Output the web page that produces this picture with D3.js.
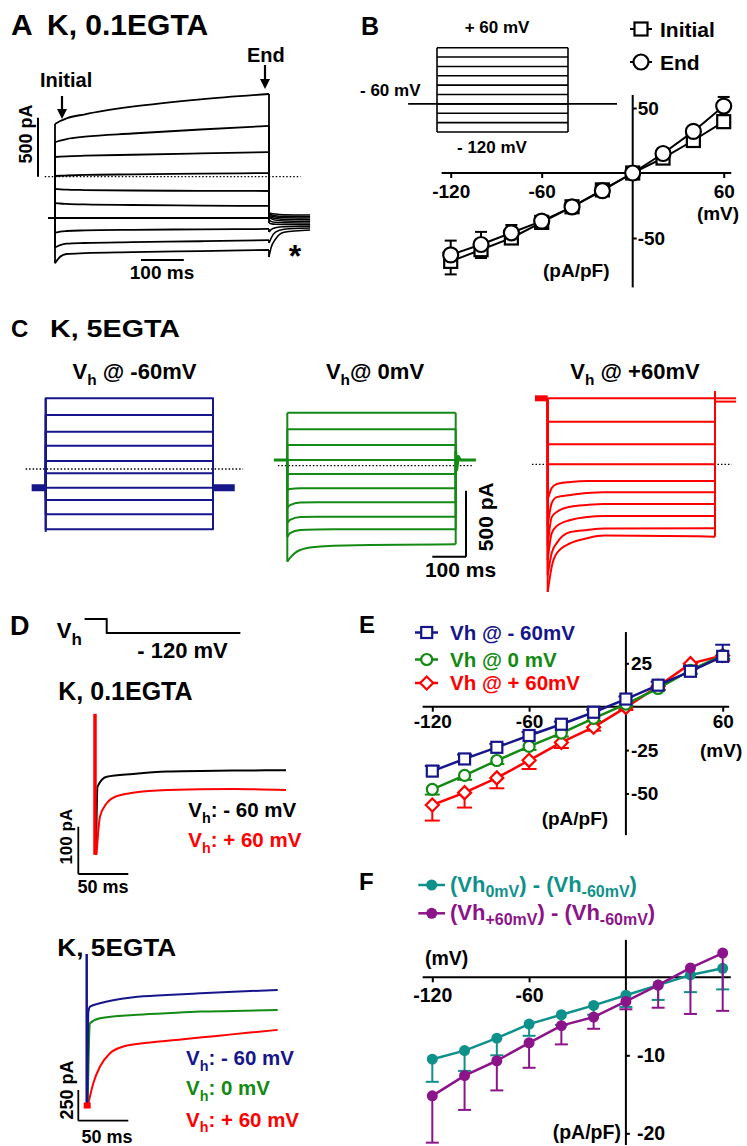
<!DOCTYPE html>
<html>
<head>
<meta charset="utf-8">
<script src="https://cdn.jsdelivr.net/npm/d3@7"></script>
<style>
  body { margin: 0; background: #fff; }
  svg text { font-family: "Liberation Sans", Arial, Helvetica, sans-serif; font-weight: bold; }
</style>
</head>
<body>
<svg id="fig" width="747" height="1146"></svg>
<script>
// ---- A: K, 0.1EGTA step traces (pA vs ms), steps +60 .. -120 mV from -60 mV ----
const aSteps = [60, 40, 20, 0, -20, -40, -60, -80, -100, -120];
const aHold = -350;
const aPreStart = -16;
const aTime = [0, 12, 27, 70, 180, 340, 500];
const aCurrent = [
  [447, 472, 495, 529, 593, 656, 701],
  [292, 305, 319, 339, 366, 400, 430],
  [167, 170, 173, 178, 186, 198, 209],
  [6, 8, 10, 15, 20, 26, 31],
  [-104, -107, -110, -113, -117, -120, -121],
  [-223, -227, -230, -235, -240, -245, -248],
  [-350, -350, -350, -350, -350, -350, -350],
  [-475, -465, -460, -455, -450, -446, -443],
  [-600, -580, -568, -562, -555, -547, -537],
  [-734, -678, -655, -648, -640, -630, -621]
];
const aTailTime = [500, 505, 515, 535, 596];
const aTail = [
  [-308, -312, -317, -322, -325],
  [-316, -322, -330, -336, -339],
  [-325, -333, -342, -348, -350],
  [-333, -343, -355, -362, -364],
  [-342, -355, -368, -375, -378],
  [-367, -378, -387, -390, -392],
  [-392, -398, -403, -405, -407],
  [-469, -448, -432, -424, -420],
  [-562, -520, -470, -445, -435],
  [-681, -600, -530, -470, -452]
];

// ---- B: I-V (pA/pF vs mV) ----
const ivVolt = [-120, -100, -80, -60, -40, -20, 0, 20, 40, 60];
const bInitial = [-68, -59, -50, -38, -26, -13, 0, 11.5, 25, 39.5];
const bInitialErr = [10, 6.4, 4, 3, 2, 1.5, 1, 2, 3, 4];
const bEnd = [-63, -55, -46, -37, -26, -13.6, 0, 15, 32, 51.5];
const bEndErr = [11, 9.7, 6, 4, 2, 1.5, 1, 2, 3, 7];
const bProtoSteps = [60, 40, 20, 0, -20, -40, -60, -80, -100, -120];
const bProtoHold = -60;

// ---- C: K, 5EGTA traces at three holding potentials ----
const cBlueHold = -142;
const cBlue = [536, 409, 283, 177, 61, -33, -142, -235, -343, -457];
const cGreenHold = 43;
const cGreenTime = [0, 8, 38, 89, 138, 500];
const cGreen = [
  [401, 401, 401, 401, 401, 401],
  [276, 276, 276, 276, 276, 276],
  [157, 157, 157, 157, 157, 157],
  [43, 43, 43, 43, 43, 43],
  [-70, -63, -63, -63, -63, -63],
  [-184, -176, -171, -171, -171, -171],
  [-320, -298, -279, -277, -277, -277],
  [-434, -411, -389, -386, -386, -386],
  [-540, -510, -487, -483, -482, -482],
  [-727, -699, -639, -614, -606, -595]
];
const cRedHold = 500;
const cRedTime = [0, 12, 27, 68, 118, 168, 500];
const cRed = [
  [500, 500, 500, 500, 500, 500, 500],
  [323, 323, 323, 323, 323, 323, 323],
  [151, 151, 151, 151, 151, 151, 151],
  [0, 0, 0, 0, 0, 0, 0],
  [-270, -180, -149, -134, -126, -126, -126],
  [-462, -295, -249, -233, -218, -212, -212],
  [-613, -400, -361, -321, -308, -301, -301],
  [-726, -521, -468, -422, -399, -392, -392],
  [-839, -672, -597, -513, -498, -487, -485],
  [-967, -775, -674, -598, -560, -540, -548]
];

// ---- D: tail currents at -120 mV ----
const dTopSpike = [13, -285];
const dTopBlackT = [1, 2.5, 11.7, 38, 72, 138, 191];
const dTopBlack = [-285, -141, -120, -114, -109, -107, -106];
const dTopRedT = [1.5, 5, 11.7, 21.7, 38, 72, 138, 191];
const dTopRed = [-285, -204, -176, -161, -154, -148, -146, -148];
const dBotSpike = [49, -1193];
const dBotBlueT = [0.6, 1.5, 3.3, 13.3, 46.6, 80, 113.3, 146.6, 191];
const dBotBlue = [-1193, -433, -380, -352, -303, -285, -271, -258, -244];
const dBotGreenT = [1, 3.3, 13.3, 46.6, 80, 113.3, 146.6, 191];
const dBotGreen = [-1150, -515, -474, -447, -433, -420, -415, -407];
const dBotRedT = [1, 6.6, 13.3, 23.3, 36.6, 63.3, 96.6, 130, 163.3, 191];
const dBotRed = [-1193, -1003, -867, -759, -705, -672, -645, -618, -591, -569];

// ---- E: I-V at three holding potentials ----
const eNeg60 = [-37.1, -30.1, -23.4, -16.6, -10.1, -3.2, 4.4, 12.4, 20.4, 29.0];
const eNeg60Err = [3, 2.5, 2, 2, 1.5, 1.5, 1.5, 2, 3, 6.7];
const eZero = [-47.6, -39.6, -31, -22.9, -15.2, -6.7, 1.5, 10.5, 21, 29.5];
const eZeroErr = [3, 2.5, 2, 2, 2, 1.5, 1, 1, 2, 2];
const ePos60 = [-56.6, -49.5, -41, -30.9, -20.6, -11.8, -0.4, 11.8, 24.8, 29.5];
const ePos60Err = [9, 8.6, 6, 5, 3.2, 2, 1.5, 2, 3, 3];

// ---- F: difference currents ----
const fZero = [-10.5, -9.4, -7.8, -6.0, -4.8, -3.6, -2.3, -1.0, 0.3, 1.15];
const fZeroErr = [2.9, 2.6, 2.2, 1.5, 1.3, 1.2, 1.5, 1.9, 2.2, 2.7];
const fPos = [-15.2, -12.6, -10.7, -8.4, -6.2, -5.1, -3.1, -1.0, 1.2, 3.1];
const fPosErr = [6.0, 4.4, 3.8, 3.2, 2.4, 1.5, 1.0, 2.9, 5.9, 7.4];

const svg = d3.select('#fig');
const NAVY = '#16168a', GREEN = '#138a13', RED = '#ff0000', TEAL = '#0f918b', PURPLE = '#8c148a';

function label(x, y, s, size, o = {}) {
  const t = svg.append('text')
    .attr('x', x).attr('y', y)
    .attr('font-size', size)
    .attr('fill', o.fill || '#000')
    .attr('text-anchor', o.anchor || 'start')
    .text(s);
  if (o.len) t.attr('textLength', o.len).attr('lengthAdjust', 'spacingAndGlyphs');
  if (o.rotate) t.attr('transform', `rotate(${o.rotate},${x},${y})`);
  return t;
}

// text with subscripts: parts = [[string, isSub], ...]
function rich(x, y, parts, size, o = {}) {
  const t = svg.append('text')
    .attr('x', x).attr('y', y)
    .attr('font-size', size)
    .attr('fill', o.fill || '#000')
    .attr('text-anchor', o.anchor || 'start');
  const sub = o.sub || size * 0.7, shift = o.shift || size * 0.28;
  let down = false;
  parts.forEach(([s, isSub]) => {
    const ts = t.append('tspan').text(s);
    if (isSub) {
      ts.attr('font-size', sub);
      if (!down) { ts.attr('dy', shift); down = true; }
    } else if (down) {
      ts.attr('dy', -shift); down = false;
    }
  });
  return t;
}

function trace(pts, x, y, color, w, curve) {
  svg.append('path')
    .attr('d', d3.line().x(d => x(d[0])).y(d => y(d[1])).curve(curve || d3.curveLinear)(pts))
    .attr('fill', 'none')
    .attr('stroke', color)
    .attr('stroke-width', w)
    .attr('stroke-linejoin', 'round');
}

function seg(x1, y1, x2, y2, w, color, dash) {
  const l = svg.append('line')
    .attr('x1', x1).attr('y1', y1).attr('x2', x2).attr('y2', y2)
    .attr('stroke', color || '#000').attr('stroke-width', w);
  if (dash) l.attr('stroke-dasharray', dash);
  return l;
}

function arrowDown(x, y1, y2) {
  seg(x, y1, x, y2 - 8, 2.2);
  svg.append('path')
    .attr('d', `M${x - 5},${y2 - 10}L${x + 5},${y2 - 10}L${x},${y2}Z`)
    .attr('fill', '#000');
}

function marker(type, cx, cy, color, s) {
  if (type === 'square') {
    svg.append('rect').attr('x', cx - s / 2).attr('y', cy - s / 2).attr('width', s).attr('height', s)
      .attr('fill', '#fff').attr('stroke', color).attr('stroke-width', 2.2);
  } else if (type === 'circle') {
    svg.append('circle').attr('cx', cx).attr('cy', cy).attr('r', s / 2)
      .attr('fill', '#fff').attr('stroke', color).attr('stroke-width', 2.2);
  } else if (type === 'diamond') {
    svg.append('path')
      .attr('d', `M${cx},${cy - s / 2}L${cx + s / 2},${cy}L${cx},${cy + s / 2}L${cx - s / 2},${cy}Z`)
      .attr('fill', '#fff').attr('stroke', color).attr('stroke-width', 2.2);
  } else {
    svg.append('circle').attr('cx', cx).attr('cy', cy).attr('r', s / 2).attr('fill', color);
  }
}

function series(x, y, vals, errs, dir, color, type, size, lw, cap) {
  vals.forEach((v, i) => {
    const px = x(ivVolt[i]), e = y(v + dir * errs[i]);
    seg(px, y(v), px, e, 2, color);
    seg(px - cap / 2, e, px + cap / 2, e, 2, color);
  });
  trace(vals.map((v, i) => [ivVolt[i], v]), x, y, color, lw);
  vals.forEach((v, i) => marker(type, x(ivVolt[i]), y(v), color, size));
}

function ivAxes(x, y, o) {
  seg(x(o.xExt[0]), y(0), x(o.xExt[1]), y(0), 2);
  seg(x(0), y(o.yExt[0]), x(0), y(o.yExt[1]), 2);
  const ax = svg.append('g').attr('transform', `translate(0,${y(0)})`)
    .call(d3.axisBottom(x).tickValues(o.xTicks).tickSize(5).tickPadding(o.xPad)
      .tickSizeOuter(0).tickFormat(d => String(d)));
  const ay = svg.append('g').attr('transform', `translate(${x(0)},0)`)
    .call(d3.axisRight(y).tickValues(o.yTicks).tickSize(o.yTick).tickPadding(o.yPad)
      .tickSizeOuter(0).tickFormat(d => String(d)));
  [ax, ay].forEach(g => {
    g.select('.domain').remove();
    g.selectAll('.tick line').attr('stroke', '#000').attr('stroke-width', 2);
    g.selectAll('text').attr('font-size', o.fs).attr('fill', '#000');
  });
}

// ================= Panel A =================
label(11, 35, 'A', 30);
label(47, 35, 'K, 0.1EGTA', 30);
const xA = d3.scaleLinear([0, 500], [55, 269]);
const yA = d3.scaleLinear([0, 500], [176.7, 117.7]);
seg(xA(-24), yA(0), xA(574), yA(0), 1.3, '#000', '1.5,2');
aCurrent.forEach((vals, i) => {
  trace([[aPreStart, aHold], [0, aHold], [0, vals[0]]], xA, yA, '#000', 1.8);
  trace(aTime.map((t, j) => [t, vals[j]]), xA, yA, '#000', 1.8, d3.curveMonotoneX);
  trace([[500, vals[vals.length - 1]], [500, aTail[i][0]]], xA, yA, '#000', 1.8);
  trace(aTailTime.map((t, j) => [t, aTail[i][j]]), xA, yA, '#000', 1.5, d3.curveMonotoneX);
});
seg(38, yA(500), 38, yA(0), 2);
label(32, 134, '500 pA', 18, { anchor: 'middle', rotate: -90 });
seg(141, 260, 141 + xA(100) - xA(0), 260, 2);
label(162, 279, '100 ms', 19, { anchor: 'middle' });
label(40, 87, 'Initial', 20);
arrowDown(62, 96, 119);
label(247, 62, 'End', 20);
arrowDown(265, 65, 89);
label(295, 267, '*', 32, { anchor: 'middle' });

// ================= Panel B =================
label(361, 35, 'B', 25);
const pt = d3.scaleLinear([0, 500], [437, 568]);
const pv = d3.scaleLinear([-120, 60], [132, 47.7]);
bProtoSteps.forEach(v => seg(pt(0), pv(v), pt(500), pv(v), 1.6));
seg(pt(0), pv(-120), pt(0), pv(60), 1.6);
seg(pt(500), pv(-120), pt(500), pv(60), 1.6);
seg(pt(-110), pv(bProtoHold), pt(687), pv(bProtoHold), 1.6);
label(497, 33, '+ 60 mV', 17, { anchor: 'middle' });
label(360, 96, '- 60 mV', 17);
label(492, 153, '- 120 mV', 17, { anchor: 'middle' });

const xB = d3.scaleLinear([-120, 60], [450.7, 723.7]);
const yB = d3.scaleLinear([0, 50], [173, 108]);
ivAxes(xB, yB, { xExt: [-126, 65], yExt: [60, -88], xTicks: [-120, -60, 60], yTicks: [50, -50],
  xPad: 7, yPad: 1, yTick: 4, fs: 19 });
label(718, 220, '(mV)', 19, { anchor: 'middle' });
label(543, 277, '(pA/pF)', 19);
series(xB, yB, bInitial, bInitialErr, -1, '#000', 'square', 13, 2, 12);
series(xB, yB, bEnd, bEndErr, 1, '#000', 'circle', 15, 2, 12);
seg(630, 29, 652, 29, 2);
marker('square', 641, 29, '#000', 13);
label(660, 37, 'Initial', 21);
seg(630, 62, 652, 62, 2);
marker('circle', 641, 62, '#000', 15);
label(660, 70, 'End', 21);

// ================= Panel C =================
label(11, 337, 'C', 24);
label(50, 337, 'K, 5EGTA', 24, { len: 130 });
const yC0 = [469, 465.7, 464.3];
const cScaleY = z => d3.scaleLinear([0, 500], [z, z - 66]);

// blue, Vh -60
const xCb = d3.scaleLinear([0, 500], [45.7, 213]);
const yCb = cScaleY(yC0[0]);
rich(134.5, 379, [['V', false], ['h', true], [' @ -60mV', false]], 22, { anchor: 'middle' });
seg(xCb(-60), yCb(0), xCb(590), yCb(0), 1.3, '#000', '1.5,2');
cBlue.forEach(v => {
  trace([[0, cBlueHold], [0, v], [500, v], [500, cBlueHold]], xCb, yCb, NAVY, 2);
});
trace([[-42, cBlueHold], [0, cBlueHold]], xCb, yCb, NAVY, 7);
trace([[500, cBlueHold], [565, cBlueHold]], xCb, yCb, NAVY, 7);
trace([[0, cBlue[0]], [0, cBlue[cBlue.length - 1] - 20]], xCb, yCb, NAVY, 2);

// green, Vh 0
const xCg = d3.scaleLinear([0, 500], [287.3, 455.7]);
const yCg = cScaleY(yC0[1]);
rich(375, 379, [['V', false], ['h', true], ['@ 0mV', false]], 22, { anchor: 'middle' });
seg(xCg(-28), yCg(0), xCg(548), yCg(0), 1.3, '#000', '1.5,2');
cGreen.forEach(vals => {
  trace([[0, cGreenHold], [0, vals[0]]], xCg, yCg, GREEN, 2);
  trace(cGreenTime.map((t, j) => [t, vals[j]]), xCg, yCg, GREEN, 2, d3.curveMonotoneX);
  trace([[500, vals[vals.length - 1]], [500, cGreenHold]], xCg, yCg, GREEN, 2);
});
trace([[-40, cGreenHold], [0, cGreenHold]], xCg, yCg, GREEN, 3);
trace([[500, 110], [503, -30], [508, 70], [514, 43], [560, cGreenHold]], xCg, yCg, GREEN, 3);

// scale bar C
seg(466, 490.7, 466, 490.7 + 66, 2);
seg(466 - (xCg(100) - xCg(0)), 556.7, 466, 556.7, 2);
label(493.3, 516.7, '500 pA', 21, { anchor: 'middle', rotate: -90 });
label(460.5, 577, '100 ms', 21, { anchor: 'middle' });

// red, Vh +60
const xCr = d3.scaleLinear([0, 500], [547.7, 715]);
const yCr = cScaleY(yC0[2]);
rich(635, 379, [['V', false], ['h', true], [' @ +60mV', false]], 22, { anchor: 'middle' });
seg(xCr(-47), yCr(0), xCr(550), yCr(0), 1.3, '#000', '1.5,2');
cRed.forEach(vals => {
  trace([[0, cRedHold], [0, vals[0]]], xCr, yCr, RED, 2);
  trace(cRedTime.map((t, j) => [t, vals[j]]), xCr, yCr, RED, 2, d3.curveMonotoneX);
  trace([[500, vals[vals.length - 1]], [500, 550]], xCr, yCr, RED, 2);
});
trace([[-38, cRedHold], [0, cRedHold]], xCr, yCr, RED, 6);
trace([[500, cRedHold], [563, cRedHold]], xCr, yCr, RED, 2);
trace([[500, cRedHold - 25], [563, cRedHold - 25]], xCr, yCr, RED, 2);

// ================= Panel D =================
label(10, 635, 'D', 27);
const xDp = d3.scaleLinear([0, 150], [106.7, 248.3]);
trace([[-23.4, 0], [0, 0], [0, -14], [141.6, -14]], xDp, d3.scaleLinear([0, -14], [619, 633]), '#000', 2);
rich(56.7, 638, [['V', false], ['h', true]], 22, { sub: 17, shift: 7 });
label(182.5, 658, '- 120 mV', 22, { anchor: 'middle' });

label(58.3, 700, 'K, 0.1EGTA', 25);
const xDt = d3.scaleLinear([0, 191], [95, 286]);
const yDt = d3.scaleLinear([0, -100], [720, 767.3]);
trace(dTopBlackT.map((t, i) => [t, dTopBlack[i]]), xDt, yDt, '#000', 2, d3.curveMonotoneX);
trace(dTopRedT.map((t, i) => [t, dTopRed[i]]), xDt, yDt, RED, 2, d3.curveMonotoneX);
trace([[0, dTopSpike[0]], [0, dTopSpike[1]]], xDt, yDt, RED, 3.5);
rich(188.3, 817, [['V', false], ['h', true], [': - 60 mV', false]], 20.5);
rich(188.3, 847, [['V', false], ['h', true], [': + 60 mV', false]], 20.5, { fill: RED });
seg(78.3, 826.7, 78.3, 826.7 + yDt(-100) - yDt(0), 1.8);
seg(78.3, 874, 78.3 + xDt(50) - xDt(0), 874, 1.8);
label(71.7, 836.7, '100 pA', 17, { anchor: 'middle', rotate: -90 });
label(103, 893, '50 ms', 18, { anchor: 'middle' });

label(57.3, 956, 'K, 5EGTA', 24, { len: 119 });
const xDb = d3.scaleLinear([0, 191], [86.7, 277.7]);
const yDb = d3.scaleLinear([0, -250], [960, 990.7]);
trace(dBotRedT.map((t, i) => [t, dBotRed[i]]), xDb, yDb, RED, 2, d3.curveMonotoneX);
trace(dBotGreenT.map((t, i) => [t, dBotGreen[i]]), xDb, yDb, GREEN, 2, d3.curveMonotoneX);
trace(dBotBlueT.map((t, i) => [t, dBotBlue[i]]), xDb, yDb, NAVY, 2, d3.curveMonotoneX);
trace([[0, dBotSpike[0]], [0, dBotSpike[1]]], xDb, yDb, NAVY, 2.5);
svg.append('rect').attr('x', xDb(0) - 3).attr('y', yDb(-1193) - 4).attr('width', 7).attr('height', 6).attr('fill', RED);
rich(186, 1065, [['V', false], ['h', true], [': - 60 mV', false]], 20.5, { fill: NAVY });
rich(186, 1095, [['V', false], ['h', true], [': 0 mV', false]], 20.5, { fill: GREEN });
rich(186, 1126.7, [['V', false], ['h', true], [': + 60 mV', false]], 20.5, { fill: RED });
seg(78.3, 1090, 78.3, 1090 + yDb(-250) - yDb(0), 1.8);
seg(78.3, 1120.7, 78.3 + xDb(50) - xDb(0), 1120.7, 1.8);
label(73.3, 1090, '250 pA', 18, { anchor: 'middle', rotate: -90 });
label(107, 1143, '50 ms', 18, { anchor: 'middle' });

// ================= Panel E =================
label(359, 633, 'E', 24);
const xE = d3.scaleLinear([-120, 60], [432.3, 722.7]);
const yE = d3.scaleLinear([0, 25], [706.7, 663.3]);
ivAxes(xE, yE, { xExt: [-126, 64], yExt: [43, -74], xTicks: [-120, -60, 60], yTicks: [25, -25, -50],
  xPad: 3, yPad: 2, yTick: 3, fs: 19 });
label(700, 757, '(mV)', 19);
label(541.7, 825, '(pA/pF)', 19);
series(xE, yE, ePos60, ePos60Err, -1, RED, 'diamond', 13, 2.5, 15);
series(xE, yE, eZero, eZeroErr, -1, GREEN, 'circle', 11, 2.5, 15);
series(xE, yE, eNeg60, eNeg60Err, 1, NAVY, 'square', 11, 2.5, 15);
[[NAVY, 'square', 632.5, 'Vh @ - 60mV'], [GREEN, 'circle', 659.5, 'Vh @ 0 mV'], [RED, 'diamond', 683, 'Vh @ + 60mV']]
  .forEach(([c, m, yy, s]) => {
    seg(415, yy, 438, yy, 2.5, c);
    marker(m, 426.7, yy, c, m === 'diamond' ? 13 : 11);
    label(450, yy + 7, s, 20.5, { fill: c });
  });

// ================= Panel F =================
label(359, 890, 'F', 24);
const xF = d3.scaleLinear([-120, 60], [432.3, 722.7]);
const yF = d3.scaleLinear([0, -20], [977.3, 1133.3]);
ivAxes(xF, yF, { xExt: [-126, 65], yExt: [4.8, -21.5], xTicks: [-120, -60], yTicks: [-10, -20],
  xPad: 6, yPad: 7, yTick: 4, fs: 19.5 });
label(425, 965, '(mV)', 19.5);
label(552.7, 1139, '(pA/pF)', 19.5);
series(xF, yF, fZero, fZeroErr, -1, TEAL, 'dot', 11, 2.5, 13);
series(xF, yF, fPos, fPosErr, -1, PURPLE, 'dot', 11, 2.5, 13);
seg(418.3, 885, 445, 885, 2.5, TEAL);
marker('dot', 431.7, 885, TEAL, 11);
rich(450, 892, [['(Vh', false], ['0mV', true], [') - (Vh', false], ['-60mV', true], [')', false]], 22,
  { fill: TEAL, sub: 16, shift: 5 });
seg(418.3, 913.3, 445, 913.3, 2.5, PURPLE);
marker('dot', 431.7, 913.3, PURPLE, 11);
rich(450, 920, [['(Vh', false], ['+60mV', true], [') - (Vh', false], ['-60mV', true], [')', false]], 22,
  { fill: PURPLE, sub: 16, shift: 5 });
</script>
</body>
</html>
